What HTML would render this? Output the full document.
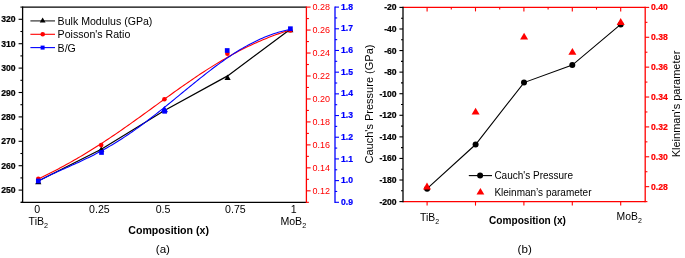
<!DOCTYPE html>
<html><head><meta charset="utf-8"><style>
html,body{margin:0;padding:0;background:#fff;}
body{width:685px;height:258px;overflow:hidden;}
svg{display:block;font-family:"Liberation Sans",sans-serif;filter:blur(0.35px);}
</style></head><body>
<svg width="685" height="258" viewBox="0 0 685 258">
<rect width="685" height="258" fill="#fff"/>
<line x1="22.60" y1="7.10" x2="306.40" y2="7.10" stroke="#000000" stroke-width="1.3"/>
<line x1="21.00" y1="202.30" x2="306.40" y2="202.30" stroke="#000000" stroke-width="1.3"/>
<line x1="22.60" y1="6.50" x2="22.60" y2="202.90" stroke="#000000" stroke-width="1.3"/>
<line x1="306.40" y1="6.50" x2="306.40" y2="202.90" stroke="#ff0000" stroke-width="1.3"/>
<line x1="335.00" y1="6.50" x2="335.00" y2="202.90" stroke="#0000ff" stroke-width="1.3"/>
<line x1="20.40" y1="202.30" x2="22.60" y2="202.30" stroke="#000000" stroke-width="1.1"/>
<line x1="18.60" y1="190.10" x2="22.60" y2="190.10" stroke="#000000" stroke-width="1.1"/>
<text x="15.60" y="193.10" font-size="8.6" text-anchor="end" font-weight="bold" fill="#000000" stroke="#000000" stroke-width="0.22" >250</text>
<line x1="20.40" y1="177.90" x2="22.60" y2="177.90" stroke="#000000" stroke-width="1.1"/>
<line x1="18.60" y1="165.70" x2="22.60" y2="165.70" stroke="#000000" stroke-width="1.1"/>
<text x="15.60" y="168.70" font-size="8.6" text-anchor="end" font-weight="bold" fill="#000000" stroke="#000000" stroke-width="0.22" >260</text>
<line x1="20.40" y1="153.50" x2="22.60" y2="153.50" stroke="#000000" stroke-width="1.1"/>
<line x1="18.60" y1="141.30" x2="22.60" y2="141.30" stroke="#000000" stroke-width="1.1"/>
<text x="15.60" y="144.30" font-size="8.6" text-anchor="end" font-weight="bold" fill="#000000" stroke="#000000" stroke-width="0.22" >270</text>
<line x1="20.40" y1="129.10" x2="22.60" y2="129.10" stroke="#000000" stroke-width="1.1"/>
<line x1="18.60" y1="116.90" x2="22.60" y2="116.90" stroke="#000000" stroke-width="1.1"/>
<text x="15.60" y="119.90" font-size="8.6" text-anchor="end" font-weight="bold" fill="#000000" stroke="#000000" stroke-width="0.22" >280</text>
<line x1="20.40" y1="104.70" x2="22.60" y2="104.70" stroke="#000000" stroke-width="1.1"/>
<line x1="18.60" y1="92.50" x2="22.60" y2="92.50" stroke="#000000" stroke-width="1.1"/>
<text x="15.60" y="95.50" font-size="8.6" text-anchor="end" font-weight="bold" fill="#000000" stroke="#000000" stroke-width="0.22" >290</text>
<line x1="20.40" y1="80.30" x2="22.60" y2="80.30" stroke="#000000" stroke-width="1.1"/>
<line x1="18.60" y1="68.10" x2="22.60" y2="68.10" stroke="#000000" stroke-width="1.1"/>
<text x="15.60" y="71.10" font-size="8.6" text-anchor="end" font-weight="bold" fill="#000000" stroke="#000000" stroke-width="0.22" >300</text>
<line x1="20.40" y1="55.90" x2="22.60" y2="55.90" stroke="#000000" stroke-width="1.1"/>
<line x1="18.60" y1="43.70" x2="22.60" y2="43.70" stroke="#000000" stroke-width="1.1"/>
<text x="15.60" y="46.70" font-size="8.6" text-anchor="end" font-weight="bold" fill="#000000" stroke="#000000" stroke-width="0.22" >310</text>
<line x1="20.40" y1="31.50" x2="22.60" y2="31.50" stroke="#000000" stroke-width="1.1"/>
<line x1="18.60" y1="19.30" x2="22.60" y2="19.30" stroke="#000000" stroke-width="1.1"/>
<text x="15.60" y="22.30" font-size="8.6" text-anchor="end" font-weight="bold" fill="#000000" stroke="#000000" stroke-width="0.22" >320</text>
<line x1="20.40" y1="7.10" x2="22.60" y2="7.10" stroke="#000000" stroke-width="1.1"/>
<line x1="306.40" y1="202.30" x2="308.90" y2="202.30" stroke="#ff0000" stroke-width="1.1"/>
<line x1="306.40" y1="190.82" x2="310.60" y2="190.82" stroke="#ff0000" stroke-width="1.1"/>
<text x="312.60" y="193.62" font-size="9" text-anchor="start" font-weight="normal" fill="#ff0000" >0.12</text>
<line x1="306.40" y1="179.34" x2="308.90" y2="179.34" stroke="#ff0000" stroke-width="1.1"/>
<line x1="306.40" y1="167.85" x2="310.60" y2="167.85" stroke="#ff0000" stroke-width="1.1"/>
<text x="312.60" y="170.65" font-size="9" text-anchor="start" font-weight="normal" fill="#ff0000" >0.14</text>
<line x1="306.40" y1="156.37" x2="308.90" y2="156.37" stroke="#ff0000" stroke-width="1.1"/>
<line x1="306.40" y1="144.89" x2="310.60" y2="144.89" stroke="#ff0000" stroke-width="1.1"/>
<text x="312.60" y="147.69" font-size="9" text-anchor="start" font-weight="normal" fill="#ff0000" >0.16</text>
<line x1="306.40" y1="133.41" x2="308.90" y2="133.41" stroke="#ff0000" stroke-width="1.1"/>
<line x1="306.40" y1="121.92" x2="310.60" y2="121.92" stroke="#ff0000" stroke-width="1.1"/>
<text x="312.60" y="124.72" font-size="9" text-anchor="start" font-weight="normal" fill="#ff0000" >0.18</text>
<line x1="306.40" y1="110.44" x2="308.90" y2="110.44" stroke="#ff0000" stroke-width="1.1"/>
<line x1="306.40" y1="98.96" x2="310.60" y2="98.96" stroke="#ff0000" stroke-width="1.1"/>
<text x="312.60" y="101.76" font-size="9" text-anchor="start" font-weight="normal" fill="#ff0000" >0.20</text>
<line x1="306.40" y1="87.48" x2="308.90" y2="87.48" stroke="#ff0000" stroke-width="1.1"/>
<line x1="306.40" y1="75.99" x2="310.60" y2="75.99" stroke="#ff0000" stroke-width="1.1"/>
<text x="312.60" y="78.79" font-size="9" text-anchor="start" font-weight="normal" fill="#ff0000" >0.22</text>
<line x1="306.40" y1="64.51" x2="308.90" y2="64.51" stroke="#ff0000" stroke-width="1.1"/>
<line x1="306.40" y1="53.03" x2="310.60" y2="53.03" stroke="#ff0000" stroke-width="1.1"/>
<text x="312.60" y="55.83" font-size="9" text-anchor="start" font-weight="normal" fill="#ff0000" >0.24</text>
<line x1="306.40" y1="41.55" x2="308.90" y2="41.55" stroke="#ff0000" stroke-width="1.1"/>
<line x1="306.40" y1="30.06" x2="310.60" y2="30.06" stroke="#ff0000" stroke-width="1.1"/>
<text x="312.60" y="32.86" font-size="9" text-anchor="start" font-weight="normal" fill="#ff0000" >0.26</text>
<line x1="306.40" y1="18.58" x2="308.90" y2="18.58" stroke="#ff0000" stroke-width="1.1"/>
<line x1="306.40" y1="7.10" x2="310.60" y2="7.10" stroke="#ff0000" stroke-width="1.1"/>
<text x="312.60" y="9.90" font-size="9" text-anchor="start" font-weight="normal" fill="#ff0000" >0.28</text>
<line x1="335.00" y1="202.30" x2="339.00" y2="202.30" stroke="#0000ff" stroke-width="1.1"/>
<text x="341.00" y="204.90" font-size="8.6" text-anchor="start" font-weight="bold" fill="#0000ff" stroke="#0000ff" stroke-width="0.22" >0.9</text>
<line x1="335.00" y1="191.46" x2="337.20" y2="191.46" stroke="#0000ff" stroke-width="1.1"/>
<line x1="335.00" y1="180.61" x2="339.00" y2="180.61" stroke="#0000ff" stroke-width="1.1"/>
<text x="341.00" y="183.21" font-size="8.6" text-anchor="start" font-weight="bold" fill="#0000ff" stroke="#0000ff" stroke-width="0.22" >1.0</text>
<line x1="335.00" y1="169.77" x2="337.20" y2="169.77" stroke="#0000ff" stroke-width="1.1"/>
<line x1="335.00" y1="158.92" x2="339.00" y2="158.92" stroke="#0000ff" stroke-width="1.1"/>
<text x="341.00" y="161.52" font-size="8.6" text-anchor="start" font-weight="bold" fill="#0000ff" stroke="#0000ff" stroke-width="0.22" >1.1</text>
<line x1="335.00" y1="148.08" x2="337.20" y2="148.08" stroke="#0000ff" stroke-width="1.1"/>
<line x1="335.00" y1="137.23" x2="339.00" y2="137.23" stroke="#0000ff" stroke-width="1.1"/>
<text x="341.00" y="139.83" font-size="8.6" text-anchor="start" font-weight="bold" fill="#0000ff" stroke="#0000ff" stroke-width="0.22" >1.2</text>
<line x1="335.00" y1="126.39" x2="337.20" y2="126.39" stroke="#0000ff" stroke-width="1.1"/>
<line x1="335.00" y1="115.54" x2="339.00" y2="115.54" stroke="#0000ff" stroke-width="1.1"/>
<text x="341.00" y="118.14" font-size="8.6" text-anchor="start" font-weight="bold" fill="#0000ff" stroke="#0000ff" stroke-width="0.22" >1.3</text>
<line x1="335.00" y1="104.70" x2="337.20" y2="104.70" stroke="#0000ff" stroke-width="1.1"/>
<line x1="335.00" y1="93.86" x2="339.00" y2="93.86" stroke="#0000ff" stroke-width="1.1"/>
<text x="341.00" y="96.46" font-size="8.6" text-anchor="start" font-weight="bold" fill="#0000ff" stroke="#0000ff" stroke-width="0.22" >1.4</text>
<line x1="335.00" y1="83.01" x2="337.20" y2="83.01" stroke="#0000ff" stroke-width="1.1"/>
<line x1="335.00" y1="72.17" x2="339.00" y2="72.17" stroke="#0000ff" stroke-width="1.1"/>
<text x="341.00" y="74.77" font-size="8.6" text-anchor="start" font-weight="bold" fill="#0000ff" stroke="#0000ff" stroke-width="0.22" >1.5</text>
<line x1="335.00" y1="61.32" x2="337.20" y2="61.32" stroke="#0000ff" stroke-width="1.1"/>
<line x1="335.00" y1="50.48" x2="339.00" y2="50.48" stroke="#0000ff" stroke-width="1.1"/>
<text x="341.00" y="53.08" font-size="8.6" text-anchor="start" font-weight="bold" fill="#0000ff" stroke="#0000ff" stroke-width="0.22" >1.6</text>
<line x1="335.00" y1="39.63" x2="337.20" y2="39.63" stroke="#0000ff" stroke-width="1.1"/>
<line x1="335.00" y1="28.79" x2="339.00" y2="28.79" stroke="#0000ff" stroke-width="1.1"/>
<text x="341.00" y="31.39" font-size="8.6" text-anchor="start" font-weight="bold" fill="#0000ff" stroke="#0000ff" stroke-width="0.22" >1.7</text>
<line x1="335.00" y1="17.94" x2="337.20" y2="17.94" stroke="#0000ff" stroke-width="1.1"/>
<line x1="335.00" y1="7.10" x2="339.00" y2="7.10" stroke="#0000ff" stroke-width="1.1"/>
<text x="341.00" y="9.70" font-size="8.6" text-anchor="start" font-weight="bold" fill="#0000ff" stroke="#0000ff" stroke-width="0.22" >1.8</text>
<text x="37.30" y="212.80" font-size="10.6" text-anchor="middle" font-weight="normal" fill="#000000" >0</text>
<text x="99.40" y="212.80" font-size="10.6" text-anchor="middle" font-weight="normal" fill="#000000" >0.25</text>
<text x="163.10" y="212.80" font-size="10.6" text-anchor="middle" font-weight="normal" fill="#000000" >0.5</text>
<text x="235.40" y="212.80" font-size="10.6" text-anchor="middle" font-weight="normal" fill="#000000" >0.75</text>
<text x="293.80" y="212.80" font-size="10.6" text-anchor="middle" font-weight="normal" fill="#000000" >1</text>
<text x="28.6" y="224.6" font-size="10.6">TiB<tspan font-size="7.2" dy="3.2">2</tspan></text>
<text x="280.4" y="224.6" font-size="10.6">MoB<tspan font-size="7.2" dy="3.2">2</tspan></text>
<text x="168.60" y="233.90" font-size="10.6" text-anchor="middle" font-weight="bold" fill="#000000" >Composition (x)</text>
<text x="162.90" y="253.20" font-size="11.6" text-anchor="middle" font-weight="normal" fill="#000000" >(a)</text>
<polyline fill="none" stroke="#000" stroke-width="1.2" points="38.3,181.0 101.3,149.2 164.5,110.5 227.6,75.9 290.3,29.3"/>
<polygon fill="#000000" points="35.20,184.20 41.40,184.20 38.30,178.80"/>
<polygon fill="#000000" points="98.20,151.70 104.40,151.70 101.30,146.30"/>
<polygon fill="#000000" points="161.40,112.20 167.60,112.20 164.50,106.80"/>
<polygon fill="#000000" points="224.50,80.00 230.70,80.00 227.60,74.60"/>
<polygon fill="#000000" points="287.20,32.20 293.40,32.20 290.30,26.80"/>
<path fill="none" stroke="#ff0000" stroke-width="1.1" stroke-linejoin="round" d="M38.30,179.01 L40.30,178.04 L42.30,177.05 L44.30,176.06 L46.30,175.06 L48.30,174.06 L50.30,173.04 L52.30,172.02 L54.30,170.99 L56.30,169.95 L58.30,168.90 L60.30,167.84 L62.30,166.76 L64.30,165.68 L66.30,164.59 L68.30,163.48 L70.30,162.37 L72.30,161.24 L74.30,160.10 L76.30,158.95 L78.30,157.79 L80.30,156.62 L82.30,155.43 L84.30,154.24 L86.30,153.03 L88.30,151.81 L90.30,150.58 L92.30,149.33 L94.30,148.08 L96.30,146.82 L98.30,145.54 L100.30,144.25 L102.30,142.96 L104.30,141.65 L106.30,140.33 L108.30,139.00 L110.30,137.66 L112.30,136.32 L114.30,134.96 L116.30,133.60 L118.30,132.22 L120.30,130.84 L122.30,129.46 L124.30,128.06 L126.30,126.66 L128.30,125.25 L130.30,123.83 L132.30,122.41 L134.30,120.98 L136.30,119.55 L138.30,118.12 L140.30,116.68 L142.30,115.24 L144.30,113.79 L146.30,112.34 L148.30,110.89 L150.30,109.44 L152.30,107.98 L154.30,106.53 L156.30,105.08 L158.30,103.62 L160.30,102.17 L162.30,100.72 L164.30,99.27 L166.30,97.82 L168.30,96.38 L170.30,94.94 L172.30,93.50 L174.30,92.07 L176.30,90.64 L178.30,89.22 L180.30,87.80 L182.30,86.39 L184.30,84.99 L186.30,83.60 L188.30,82.21 L190.30,80.83 L192.30,79.46 L194.30,78.10 L196.30,76.75 L198.30,75.41 L200.30,74.08 L202.30,72.76 L204.30,71.46 L206.30,70.16 L208.30,68.88 L210.30,67.61 L212.30,66.35 L214.30,65.11 L216.30,63.88 L218.30,62.67 L220.30,61.47 L222.30,60.28 L224.30,59.11 L226.30,57.96 L228.30,56.82 L230.30,55.70 L232.30,54.59 L234.30,53.50 L236.30,52.43 L238.30,51.37 L240.30,50.33 L242.30,49.31 L244.30,48.30 L246.30,47.31 L248.30,46.34 L250.30,45.39 L252.30,44.46 L254.30,43.54 L256.30,42.64 L258.30,41.76 L260.30,40.89 L262.30,40.04 L264.30,39.21 L266.30,38.40 L268.30,37.60 L270.30,36.82 L272.30,36.06 L274.30,35.31 L276.30,34.58 L278.30,33.87 L280.30,33.17 L282.30,32.48 L284.30,31.81 L286.30,31.16 L288.30,30.52 L290.30,29.89"/>
<circle cx="38.3" cy="178.7" r="2.3" fill="#ff0000"/>
<circle cx="101.2" cy="145.1" r="2.3" fill="#ff0000"/>
<circle cx="164.4" cy="99.3" r="2.3" fill="#ff0000"/>
<circle cx="227.4" cy="53.7" r="2.3" fill="#ff0000"/>
<circle cx="290.4" cy="30.5" r="2.3" fill="#ff0000"/>
<path fill="none" stroke="#0000ff" stroke-width="1.1" stroke-linejoin="round" d="M38.30,181.16 L40.30,180.07 L42.30,179.02 L44.30,177.99 L46.30,176.99 L48.30,176.01 L50.30,175.05 L52.30,174.11 L54.30,173.18 L56.30,172.26 L58.30,171.35 L60.30,170.45 L62.30,169.56 L64.30,168.66 L66.30,167.77 L68.30,166.88 L70.30,165.99 L72.30,165.10 L74.30,164.20 L76.30,163.29 L78.30,162.38 L80.30,161.45 L82.30,160.52 L84.30,159.57 L86.30,158.61 L88.30,157.64 L90.30,156.66 L92.30,155.66 L94.30,154.64 L96.30,153.60 L98.30,152.55 L100.30,151.48 L102.30,150.40 L104.30,149.29 L106.30,148.17 L108.30,147.02 L110.30,145.86 L112.30,144.67 L114.30,143.47 L116.30,142.24 L118.30,141.00 L120.30,139.73 L122.30,138.45 L124.30,137.14 L126.30,135.82 L128.30,134.48 L130.30,133.11 L132.30,131.73 L134.30,130.33 L136.30,128.91 L138.30,127.48 L140.30,126.02 L142.30,124.55 L144.30,123.07 L146.30,121.57 L148.30,120.05 L150.30,118.52 L152.30,116.98 L154.30,115.42 L156.30,113.86 L158.30,112.28 L160.30,110.69 L162.30,109.09 L164.30,107.48 L166.30,105.87 L168.30,104.24 L170.30,102.62 L172.30,100.98 L174.30,99.35 L176.30,97.70 L178.30,96.06 L180.30,94.42 L182.30,92.78 L184.30,91.13 L186.30,89.49 L188.30,87.85 L190.30,86.22 L192.30,84.59 L194.30,82.97 L196.30,81.35 L198.30,79.74 L200.30,78.14 L202.30,76.56 L204.30,74.98 L206.30,73.41 L208.30,71.86 L210.30,70.32 L212.30,68.80 L214.30,67.29 L216.30,65.80 L218.30,64.33 L220.30,62.88 L222.30,61.44 L224.30,60.03 L226.30,58.64 L228.30,57.27 L230.30,55.93 L232.30,54.61 L234.30,53.31 L236.30,52.04 L238.30,50.80 L240.30,49.59 L242.30,48.40 L244.30,47.24 L246.30,46.11 L248.30,45.01 L250.30,43.94 L252.30,42.90 L254.30,41.89 L256.30,40.91 L258.30,39.97 L260.30,39.06 L262.30,38.18 L264.30,37.33 L266.30,36.51 L268.30,35.73 L270.30,34.99 L272.30,34.27 L274.30,33.59 L276.30,32.94 L278.30,32.33 L280.30,31.75 L282.30,31.20 L284.30,30.68 L286.30,30.19 L288.30,29.74 L290.30,29.32"/>
<polygon fill="#0000ff" points="161.0,112.0 167.8,112.0 164.4,105.9"/>
<rect x="35.95" y="178.65" width="4.7" height="4.7" fill="#0000ff"/>
<rect x="99.15" y="150.15" width="4.7" height="4.7" fill="#0000ff"/>
<rect x="162.25" y="108.95" width="4.7" height="4.7" fill="#0000ff"/>
<rect x="224.85" y="48.15" width="4.7" height="4.7" fill="#0000ff"/>
<rect x="288.05" y="26.35" width="4.7" height="4.7" fill="#0000ff"/>
<line x1="30.40" y1="20.90" x2="55.00" y2="20.90" stroke="#333" stroke-width="1.2"/>
<polygon fill="#000000" points="39.75,22.60 45.55,22.60 42.65,17.60"/>
<line x1="30.40" y1="34.30" x2="55.00" y2="34.30" stroke="#ff0000" stroke-width="1.1"/>
<circle cx="42.7" cy="34.3" r="2.3" fill="#ff0000"/>
<line x1="30.40" y1="47.60" x2="55.00" y2="47.60" stroke="#0000ff" stroke-width="1.1"/>
<rect x="40.6" y="45.6" width="4.0" height="4.0" fill="#0000ff"/>
<text x="57.60" y="24.80" font-size="10.6" text-anchor="start" font-weight="normal" fill="#000000" >Bulk Modulus (GPa)</text>
<text x="57.60" y="38.40" font-size="10.6" text-anchor="start" font-weight="normal" fill="#000000" >Poisson's Ratio</text>
<text x="57.60" y="51.80" font-size="10.6" text-anchor="start" font-weight="normal" fill="#000000" >B/G</text>
<line x1="403.00" y1="7.40" x2="645.20" y2="7.40" stroke="#ff0000" stroke-width="1.3"/>
<line x1="403.00" y1="201.60" x2="645.20" y2="201.60" stroke="#ff0000" stroke-width="1.3"/>
<line x1="645.20" y1="6.80" x2="645.20" y2="202.20" stroke="#ff0000" stroke-width="1.3"/>
<line x1="403.00" y1="6.80" x2="403.00" y2="202.20" stroke="#000000" stroke-width="1.3"/>
<line x1="399.40" y1="201.60" x2="403.00" y2="201.60" stroke="#000000" stroke-width="1.1"/>
<text x="396.60" y="204.60" font-size="8.6" text-anchor="end" font-weight="bold" fill="#000000" stroke="#000000" stroke-width="0.22" >-200</text>
<line x1="401.00" y1="190.81" x2="403.00" y2="190.81" stroke="#000000" stroke-width="1.1"/>
<line x1="399.40" y1="180.02" x2="403.00" y2="180.02" stroke="#000000" stroke-width="1.1"/>
<text x="396.60" y="183.02" font-size="8.6" text-anchor="end" font-weight="bold" fill="#000000" stroke="#000000" stroke-width="0.22" >-180</text>
<line x1="401.00" y1="169.23" x2="403.00" y2="169.23" stroke="#000000" stroke-width="1.1"/>
<line x1="399.40" y1="158.44" x2="403.00" y2="158.44" stroke="#000000" stroke-width="1.1"/>
<text x="396.60" y="161.44" font-size="8.6" text-anchor="end" font-weight="bold" fill="#000000" stroke="#000000" stroke-width="0.22" >-160</text>
<line x1="401.00" y1="147.66" x2="403.00" y2="147.66" stroke="#000000" stroke-width="1.1"/>
<line x1="399.40" y1="136.87" x2="403.00" y2="136.87" stroke="#000000" stroke-width="1.1"/>
<text x="396.60" y="139.87" font-size="8.6" text-anchor="end" font-weight="bold" fill="#000000" stroke="#000000" stroke-width="0.22" >-140</text>
<line x1="401.00" y1="126.08" x2="403.00" y2="126.08" stroke="#000000" stroke-width="1.1"/>
<line x1="399.40" y1="115.29" x2="403.00" y2="115.29" stroke="#000000" stroke-width="1.1"/>
<text x="396.60" y="118.29" font-size="8.6" text-anchor="end" font-weight="bold" fill="#000000" stroke="#000000" stroke-width="0.22" >-120</text>
<line x1="401.00" y1="104.50" x2="403.00" y2="104.50" stroke="#000000" stroke-width="1.1"/>
<line x1="399.40" y1="93.71" x2="403.00" y2="93.71" stroke="#000000" stroke-width="1.1"/>
<text x="396.60" y="96.71" font-size="8.6" text-anchor="end" font-weight="bold" fill="#000000" stroke="#000000" stroke-width="0.22" >-100</text>
<line x1="401.00" y1="82.92" x2="403.00" y2="82.92" stroke="#000000" stroke-width="1.1"/>
<line x1="399.40" y1="72.13" x2="403.00" y2="72.13" stroke="#000000" stroke-width="1.1"/>
<text x="396.60" y="75.13" font-size="8.6" text-anchor="end" font-weight="bold" fill="#000000" stroke="#000000" stroke-width="0.22" >-80</text>
<line x1="401.00" y1="61.34" x2="403.00" y2="61.34" stroke="#000000" stroke-width="1.1"/>
<line x1="399.40" y1="50.56" x2="403.00" y2="50.56" stroke="#000000" stroke-width="1.1"/>
<text x="396.60" y="53.56" font-size="8.6" text-anchor="end" font-weight="bold" fill="#000000" stroke="#000000" stroke-width="0.22" >-60</text>
<line x1="401.00" y1="39.77" x2="403.00" y2="39.77" stroke="#000000" stroke-width="1.1"/>
<line x1="399.40" y1="28.98" x2="403.00" y2="28.98" stroke="#000000" stroke-width="1.1"/>
<text x="396.60" y="31.98" font-size="8.6" text-anchor="end" font-weight="bold" fill="#000000" stroke="#000000" stroke-width="0.22" >-40</text>
<line x1="401.00" y1="18.19" x2="403.00" y2="18.19" stroke="#000000" stroke-width="1.1"/>
<line x1="399.40" y1="7.40" x2="403.00" y2="7.40" stroke="#000000" stroke-width="1.1"/>
<text x="396.60" y="10.40" font-size="8.6" text-anchor="end" font-weight="bold" fill="#000000" stroke="#000000" stroke-width="0.22" >-20</text>
<line x1="645.20" y1="201.60" x2="647.40" y2="201.60" stroke="#ff0000" stroke-width="1.1"/>
<line x1="645.20" y1="186.66" x2="649.20" y2="186.66" stroke="#ff0000" stroke-width="1.1"/>
<text x="651.00" y="189.66" font-size="8.6" text-anchor="start" font-weight="bold" fill="#ff0000" stroke="#ff0000" stroke-width="0.22" >0.28</text>
<line x1="645.20" y1="171.72" x2="647.40" y2="171.72" stroke="#ff0000" stroke-width="1.1"/>
<line x1="645.20" y1="156.78" x2="649.20" y2="156.78" stroke="#ff0000" stroke-width="1.1"/>
<text x="651.00" y="159.78" font-size="8.6" text-anchor="start" font-weight="bold" fill="#ff0000" stroke="#ff0000" stroke-width="0.22" >0.30</text>
<line x1="645.20" y1="141.85" x2="647.40" y2="141.85" stroke="#ff0000" stroke-width="1.1"/>
<line x1="645.20" y1="126.91" x2="649.20" y2="126.91" stroke="#ff0000" stroke-width="1.1"/>
<text x="651.00" y="129.91" font-size="8.6" text-anchor="start" font-weight="bold" fill="#ff0000" stroke="#ff0000" stroke-width="0.22" >0.32</text>
<line x1="645.20" y1="111.97" x2="647.40" y2="111.97" stroke="#ff0000" stroke-width="1.1"/>
<line x1="645.20" y1="97.03" x2="649.20" y2="97.03" stroke="#ff0000" stroke-width="1.1"/>
<text x="651.00" y="100.03" font-size="8.6" text-anchor="start" font-weight="bold" fill="#ff0000" stroke="#ff0000" stroke-width="0.22" >0.34</text>
<line x1="645.20" y1="82.09" x2="647.40" y2="82.09" stroke="#ff0000" stroke-width="1.1"/>
<line x1="645.20" y1="67.15" x2="649.20" y2="67.15" stroke="#ff0000" stroke-width="1.1"/>
<text x="651.00" y="70.15" font-size="8.6" text-anchor="start" font-weight="bold" fill="#ff0000" stroke="#ff0000" stroke-width="0.22" >0.36</text>
<line x1="645.20" y1="52.22" x2="647.40" y2="52.22" stroke="#ff0000" stroke-width="1.1"/>
<line x1="645.20" y1="37.28" x2="649.20" y2="37.28" stroke="#ff0000" stroke-width="1.1"/>
<text x="651.00" y="40.28" font-size="8.6" text-anchor="start" font-weight="bold" fill="#ff0000" stroke="#ff0000" stroke-width="0.22" >0.38</text>
<line x1="645.20" y1="22.34" x2="647.40" y2="22.34" stroke="#ff0000" stroke-width="1.1"/>
<line x1="645.20" y1="7.40" x2="649.20" y2="7.40" stroke="#ff0000" stroke-width="1.1"/>
<text x="651.00" y="10.40" font-size="8.6" text-anchor="start" font-weight="bold" fill="#ff0000" stroke="#ff0000" stroke-width="0.22" >0.40</text>
<line x1="427.10" y1="7.40" x2="427.10" y2="11.40" stroke="#ff0000" stroke-width="1.1"/>
<line x1="427.10" y1="201.60" x2="427.10" y2="205.60" stroke="#ff0000" stroke-width="1.1"/>
<line x1="451.30" y1="7.40" x2="451.30" y2="9.60" stroke="#ff0000" stroke-width="1.1"/>
<line x1="475.50" y1="7.40" x2="475.50" y2="11.40" stroke="#ff0000" stroke-width="1.1"/>
<line x1="475.50" y1="201.60" x2="475.50" y2="205.60" stroke="#ff0000" stroke-width="1.1"/>
<line x1="499.70" y1="7.40" x2="499.70" y2="9.60" stroke="#ff0000" stroke-width="1.1"/>
<line x1="523.90" y1="7.40" x2="523.90" y2="11.40" stroke="#ff0000" stroke-width="1.1"/>
<line x1="523.90" y1="201.60" x2="523.90" y2="205.60" stroke="#ff0000" stroke-width="1.1"/>
<line x1="548.10" y1="7.40" x2="548.10" y2="9.60" stroke="#ff0000" stroke-width="1.1"/>
<line x1="572.30" y1="7.40" x2="572.30" y2="11.40" stroke="#ff0000" stroke-width="1.1"/>
<line x1="572.30" y1="201.60" x2="572.30" y2="205.60" stroke="#ff0000" stroke-width="1.1"/>
<line x1="596.50" y1="7.40" x2="596.50" y2="9.60" stroke="#ff0000" stroke-width="1.1"/>
<line x1="620.70" y1="7.40" x2="620.70" y2="11.40" stroke="#ff0000" stroke-width="1.1"/>
<line x1="620.70" y1="201.60" x2="620.70" y2="205.60" stroke="#ff0000" stroke-width="1.1"/>
<polyline fill="none" stroke="#000" stroke-width="1.1" points="427.1,188.7 475.6,144.5 524.0,82.6 572.3,65.1 620.7,24.4"/>
<circle cx="427.1" cy="188.7" r="3.0" fill="#000"/>
<circle cx="475.6" cy="144.5" r="3.0" fill="#000"/>
<circle cx="524.0" cy="82.6" r="3.0" fill="#000"/>
<circle cx="572.3" cy="65.1" r="3.0" fill="#000"/>
<circle cx="620.7" cy="24.4" r="3.0" fill="#000"/>
<polygon fill="#ff0000" points="423.00,189.40 431.00,189.40 427.00,182.60"/>
<polygon fill="#ff0000" points="471.60,114.60 479.60,114.60 475.60,107.80"/>
<polygon fill="#ff0000" points="520.10,39.50 528.10,39.50 524.10,32.70"/>
<polygon fill="#ff0000" points="568.40,54.70 576.40,54.70 572.40,47.90"/>
<polygon fill="#ff0000" points="616.70,24.90 624.70,24.90 620.70,18.10"/>
<line x1="468.80" y1="175.60" x2="492.00" y2="175.60" stroke="#000000" stroke-width="1.1"/>
<circle cx="480.1" cy="175.6" r="3.0" fill="#000"/>
<polygon fill="#ff0000" points="476.50,194.50 484.30,194.50 480.40,187.90"/>
<text x="494.40" y="179.30" font-size="10.0" text-anchor="start" font-weight="normal" fill="#000000" >Cauch's Pressure</text>
<text x="494.40" y="195.90" font-size="10.0" text-anchor="start" font-weight="normal" fill="#000000" >Kleinman’s parameter</text>
<text x="372.90" y="104.00" font-size="11" text-anchor="middle" font-weight="normal" fill="#000000" transform="rotate(-90 372.9 104)">Cauch's Pressure (GPa)</text>
<text x="680.00" y="104.00" font-size="11" text-anchor="middle" font-weight="normal" fill="#000000" transform="rotate(-90 680 104)">Kleinman's parameter</text>
<text x="420.0" y="220.7" font-size="10.4">TiB<tspan font-size="7" dy="3.2">2</tspan></text>
<text x="616.6" y="219.6" font-size="10.4">MoB<tspan font-size="7" dy="3.2">2</tspan></text>
<text x="527.50" y="223.60" font-size="10.1" text-anchor="middle" font-weight="bold" fill="#000000" >Composition (x)</text>
<text x="524.70" y="253.20" font-size="11.6" text-anchor="middle" font-weight="normal" fill="#000000" >(b)</text>
</svg>
</body></html>
